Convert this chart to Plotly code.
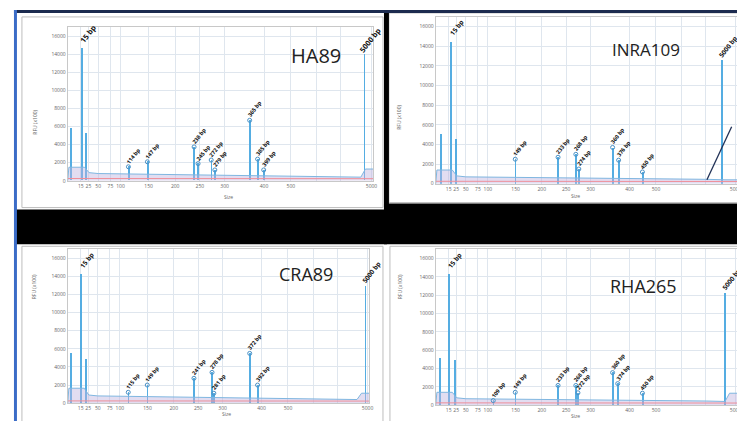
import plotly.graph_objects as go

W, H = 745, 421

# ---------------- data ----------------
tick_pos = [4.3, 6.8, 10.0, 14.0, 17.3, 26.5, 35.2, 43.3, 51.4, 64.3, 73.1, 81.5, 89.5, 99.5]
tick_text = ["15", "25", "50", "75", "100", "150", "200", "250", "300", "400", "500", "", "", "5000"]
y_ticks = [0, 2000, 4000, 6000, 8000, 10000, 12000, 14000, 16000]

panel_names = ["HA89", "INRA109", "CRA89", "RHA265"]

# peak positions (migration units), heights (RFU), labels
HA89_pos = [1.0, 4.6, 5.9, 19.9, 26.1, 41.4, 42.7, 47.0, 48.2, 59.6, 62.2, 64.2, 97.1]
HA89_rfu = [5850, 14700, 5200, 1550, 2100, 3750, 1900, 2300, 1200, 6700, 2400, 1200, 14000]
HA89_lab = ["", "15 bp", "", "114 bp", "147 bp", "238 bp", "245 bp", "272 bp", "279 bp", "365 bp", "385 bp", "399 bp", "5000 bp"]

INRA109_pos = [1.7, 5.0, 6.6, 26.4, 40.6, 46.5, 47.5, 58.7, 60.7, 68.6, 95.0]
INRA109_rfu = [5050, 14500, 4550, 2500, 2700, 3000, 1500, 3700, 2400, 1200, 12600]
INRA109_lab = ["", "15 bp", "", "149 bp", "233 bp", "268 bp", "274 bp", "360 bp", "376 bp", "450 bp", "5000 bp"]

CRA89_pos = [1.0, 4.3, 5.9, 20.1, 26.4, 41.9, 47.9, 48.5, 60.4, 63.0, 98.7]
CRA89_rfu = [5500, 14250, 4900, 1200, 2000, 2750, 3400, 1100, 5500, 2000, 12900]
CRA89_lab = ["", "15 bp", "", "115 bp", "149 bp", "241 bp", "278 bp", "281 bp", "372 bp", "392 bp", "5000 bp"]

RHA265_pos = [1.3, 4.3, 6.3, 19.1, 26.4, 40.6, 46.5, 47.2, 58.7, 60.4, 68.6, 96.0]
RHA265_rfu = [5100, 14250, 4850, 500, 1400, 2150, 2150, 1350, 3550, 2350, 1300, 12200]
RHA265_lab = ["", "15 bp", "", "109 bp", "149 bp", "233 bp", "268 bp", "272 bp", "360 bp", "374 bp", "450 bp", "5000 bp"]

# baseline of the trace
base_x = [0.0, 0.4, 5.5, 7.0, 10.0, 30.0, 60.0, 90.0, 96.0, 97.5, 100.0]
HA89_base = [0, 1500, 1500, 900, 800, 700, 600, 450, 400, 1300, 1300]
INRA109_base = [0, 1400, 1400, 800, 700, 650, 550, 450, 400, 400, 400]
CRA89_base = [0, 1650, 1650, 900, 800, 700, 600, 450, 400, 1100, 1100]
RHA265_base = [0, 1400, 1400, 800, 700, 650, 550, 450, 400, 1300, 1300]
pink_level = [250, 250, 250, 300, 300, 280, 260, 240, 230, 230, 230]

# INRA109 rising line at end
INRA109_rise_x = [90.0, 98.2]
INRA109_rise_y = [400, 5800]

pos = [HA89_pos, INRA109_pos, CRA89_pos, RHA265_pos]
rfu = [HA89_rfu, INRA109_rfu, CRA89_rfu, RHA265_rfu]
labs = [HA89_lab, INRA109_lab, CRA89_lab, RHA265_lab]
bases = [HA89_base, INRA109_base, CRA89_base, RHA265_base]

# ---------------- layout geometry (pixels) ----------------
areas = [(60, 367, 174, 19.5), (430, 733, 177, 9), (60, 363, 398, 243), (430, 733, 400, 243)]
name_xy = [(310, 32), (678, 28), (300, 268), (675, 280)]
name_size = [20, 17, 18, 18]
xtitle_xy = [(215, 190), (577, 189), (213, 414), (577, 416)]
ytitle_xy = [(22, 100), (393, 95), (22, 295), (395, 295)]
frames = [(14, 377, 9, 201), (383, 741, 5, 196), (14, 377, 240, 417), (384, 738, 240, 417)]


def px(x):
    return x / W


def py(y):
    return 1 - y / H


fig = go.Figure()
layout = dict(width=W, height=H, margin=dict(l=0, r=0, t=0, b=0), showlegend=False,
              paper_bgcolor="white", plot_bgcolor="white", bargap=0)
annotations = []
shapes = []

blue = "#55ade2"
for i in range(4):
    sfx = "" if i == 0 else str(i + 1)
    xa, ya = "x" + sfx, "y" + sfx
    l, r, b, t = areas[i]
    layout["xaxis" + sfx] = dict(domain=[px(l), px(r)], range=[0, 100], anchor=ya,
                                 tickvals=tick_pos, ticktext=tick_text, showgrid=True,
                                 gridcolor="#dfe6ee", gridwidth=1, zeroline=False,
                                 tickfont=dict(size=5, color="#666"), ticks="", tickangle=0,
                                 ticklabelstandoff=0,
                                 showline=True, linecolor="#c8c8c8", mirror=True)
    layout["yaxis" + sfx] = dict(domain=[py(b), py(t)], range=[0, 17000], anchor=xa,
                                 tickvals=y_ticks, ticktext=[str(v) for v in y_ticks],
                                 showgrid=True, gridcolor="#dfe6ee", zeroline=False,
                                 tickfont=dict(size=5, color="#666"), ticks="",
                                 showline=True, linecolor="#c8c8c8", mirror=True)
    fig.add_trace(go.Scatter(x=base_x, y=bases[i], mode="lines", xaxis=xa, yaxis=ya,
                             line=dict(color="#7fb6e0", width=1), fill="tozeroy",
                             fillcolor="rgba(190,180,225,0.45)", hoverinfo="skip"))
    fig.add_trace(go.Scatter(x=base_x, y=pink_level, mode="lines", xaxis=xa, yaxis=ya,
                             line=dict(color="#ef8f9a", width=1), hoverinfo="skip"))
    fig.add_trace(go.Bar(x=pos[i], y=rfu[i], width=0.28, xaxis=xa, yaxis=ya,
                         marker=dict(color=blue, line=dict(width=0))))
    lx = [p for p, s in zip(pos[i], labs[i]) if s and s not in ("15 bp", "5000 bp")]
    ly = [h for h, s in zip(rfu[i], labs[i]) if s and s not in ("15 bp", "5000 bp")]
    fig.add_trace(go.Scatter(x=lx, y=ly, mode="markers", xaxis=xa, yaxis=ya,
                             marker=dict(symbol="circle-open", size=4, color="#4a90c4",
                                         line=dict(width=1))))
    if i == 1:
        fig.add_trace(go.Scatter(x=INRA109_rise_x, y=INRA109_rise_y, mode="lines",
                                 xaxis=xa, yaxis=ya, line=dict(color="#1f2f55", width=1.3)))
    for p, h, s in zip(pos[i], rfu[i], labs[i]):
        if not s:
            continue
        big = s in ("15 bp", "5000 bp")
        annotations.append(dict(x=p, y=h, xref=xa, yref=ya, text="<b>%s</b>" % s,
                                showarrow=False, textangle=-52,
                                font=dict(size=7.5 if (big and i == 0) else (6.5 if big else 5.5),
                                          color="#111"),
                                xshift=6 if big else 5, yshift=14 if big else 11))
    annotations.append(dict(x=px(name_xy[i][0]), y=py(name_xy[i][1]), xref="paper", yref="paper",
                            text=panel_names[i], showarrow=False,
                            font=dict(size=name_size[i], color="#222", family="Open Sans")))
    annotations.append(dict(x=px(xtitle_xy[i][0]), y=py(xtitle_xy[i][1]), xref="paper", yref="paper",
                            text="Size", showarrow=False, font=dict(size=5, color="#666")))
    annotations.append(dict(x=px(ytitle_xy[i][0]), y=py(ytitle_xy[i][1]), xref="paper", yref="paper",
                            text="RFU (x100)", showarrow=False, textangle=-90,
                            font=dict(size=5, color="#666")))
    fx0, fx1, fy0, fy1 = frames[i]
    shapes.append(dict(type="rect", xref="paper", yref="paper", x0=px(fx0), x1=px(fx1),
                       y0=py(fy1), y1=py(fy0), line=dict(color="#bdbdbd", width=1),
                       fillcolor="rgba(0,0,0,0)", layer="below"))


def band(x0, x1, y0, y1, color):
    return dict(type="rect", xref="paper", yref="paper", x0=px(x0), x1=px(x1),
                y0=py(y1), y1=py(y0), line=dict(width=0), fillcolor=color, layer="below")


shapes += [
    band(8, 381, 203, 238, "black"),
    band(378, 745, 197, 238, "black"),
    band(378, 383, 3, 203, "black"),
    band(741, 745, 3, 203, "black"),
    band(6, 745, 2, 5, "#1c2b4f"),
    band(6, 9, 2, 421, "#3b6cc7"),
    band(8, 745, 418, 421, "#222"),
]

layout["annotations"] = annotations
layout["shapes"] = shapes
fig.update_layout(**layout)
fig.write_html("out.html")
